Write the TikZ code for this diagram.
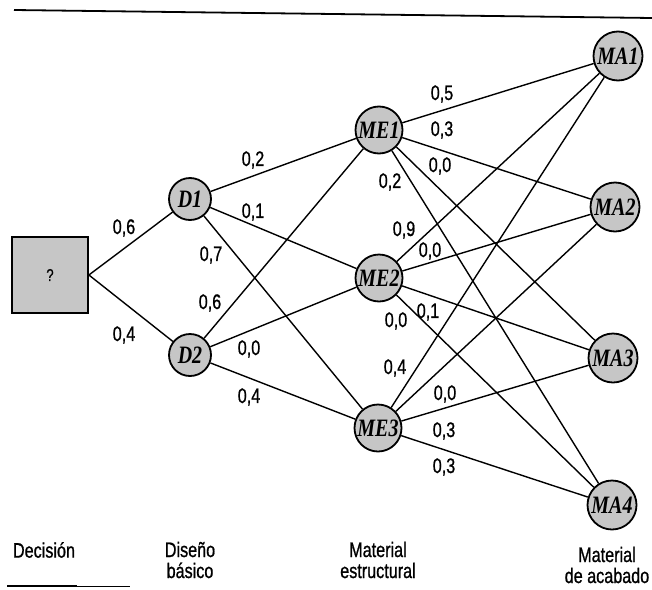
\documentclass[tikz,border=0pt]{standalone}
\usepackage{fontspec}
\newfontfamily\labfont[FakeStretch=0.77,FakeBold=0.8]{Liberation Sans}
\newfontfamily\nodefont[FakeStretch=0.8]{Liberation Serif}
\begin{document}
\begin{tikzpicture}[x=1pt,y=-1pt,
  base/.style={circle,draw,line width=1.8pt,fill=gray!45,inner sep=0pt,
    font=\nodefont\bfseries\itshape\fontsize{25}{25}\selectfont},
  dnode/.style={base,minimum size=42pt},
  menode/.style={base,minimum size=47pt},
  manode/.style={base,minimum size=49pt},
  sqnode/.style={draw,line width=1.8pt,fill=gray!45,minimum size=76pt,inner sep=0pt,
    font=\labfont\fontsize{17}{17}\selectfont},
  edge/.style={line width=1.4pt},
  prob/.style={inner sep=0pt,font=\labfont\fontsize{21}{21}\selectfont},
  captext/.style={inner sep=0pt,align=center,font=\labfont\fontsize{21}{21}\selectfont}]
\useasboundingbox (0,0) rectangle (652,589);
\fill[white] (0,0) rectangle (652,589);
% rules
\coordinate (tl) at (14,10);
\coordinate (tr) at (652,18);
\coordinate (bl) at (7,586);
\coordinate (bm) at (77,586);
\coordinate (br) at (130,586);
\draw[line width=1.8pt] (tl) -- (tr);
\draw[line width=1.8pt] (bl) -- (bm);
\draw[line width=1pt] (bm) -- (br);
% nodes
\node[sqnode] (Q) at (50,275) {?};
\node[dnode] (D1) at (190,199) {D1};
\node[dnode] (D2) at (190,355) {D2};
\node[menode] (ME1) at (379,130) {ME1};
\node[menode] (ME2) at (379,278) {ME2};
\node[menode] (ME3) at (378,428) {ME3};
\node[manode] (MA1) at (618,56) {MA1};
\node[manode] (MA2) at (615,207) {MA2};
\node[manode] (MA3) at (613,358) {MA3};
\node[manode] (MA4) at (612,505) {MA4};
% edges
\draw[edge] (Q.east) -- (D1);
\draw[edge] (Q.east) -- (D2);
\foreach \d in {D1,D2}{\foreach \m in {ME1,ME2,ME3}{\draw[edge] (\d) -- (\m);}}
\foreach \m in {ME1,ME2,ME3}{\foreach \a in {MA1,MA2,MA3,MA4}{\draw[edge] (\m) -- (\a);}}
% probabilities
\node[prob] (p1) at (124,228) {0,6};
\node[prob] (p2) at (124,335) {0,4};
\node[prob] (p3) at (253,160) {0,2};
\node[prob] (p4) at (253,212) {0,1};
\node[prob] (p5) at (211,255) {0,7};
\node[prob] (p6) at (210,303) {0,6};
\node[prob] (p7) at (249,349) {0,0};
\node[prob] (p8) at (249,397) {0,4};
\node[prob] (p9) at (442,94) {0,5};
\node[prob] (p10) at (442,130) {0,3};
\node[prob] (p11) at (440,166) {0,0};
\node[prob] (p12) at (390,182) {0,2};
\node[prob] (p13) at (404,230) {0,9};
\node[prob] (p14) at (430,251) {0,0};
\node[prob] (p15) at (428,312) {0,1};
\node[prob] (p16) at (396,321) {0,0};
\node[prob] (p17) at (395,368) {0,4};
\node[prob] (p18) at (445,394) {0,0};
\node[prob] (p19) at (444,431) {0,3};
\node[prob] (p20) at (444,467) {0,3};
% captions
\node[captext] (c1) at (44,550) {Decisión};
\node[captext] (c2) at (190,560) {Diseño\\básico};
\node[captext] (c3) at (378,560) {Material\\estructural};
\node[captext] (c4) at (607,565) {Material\\de acabado};
\end{tikzpicture}
\end{document}
